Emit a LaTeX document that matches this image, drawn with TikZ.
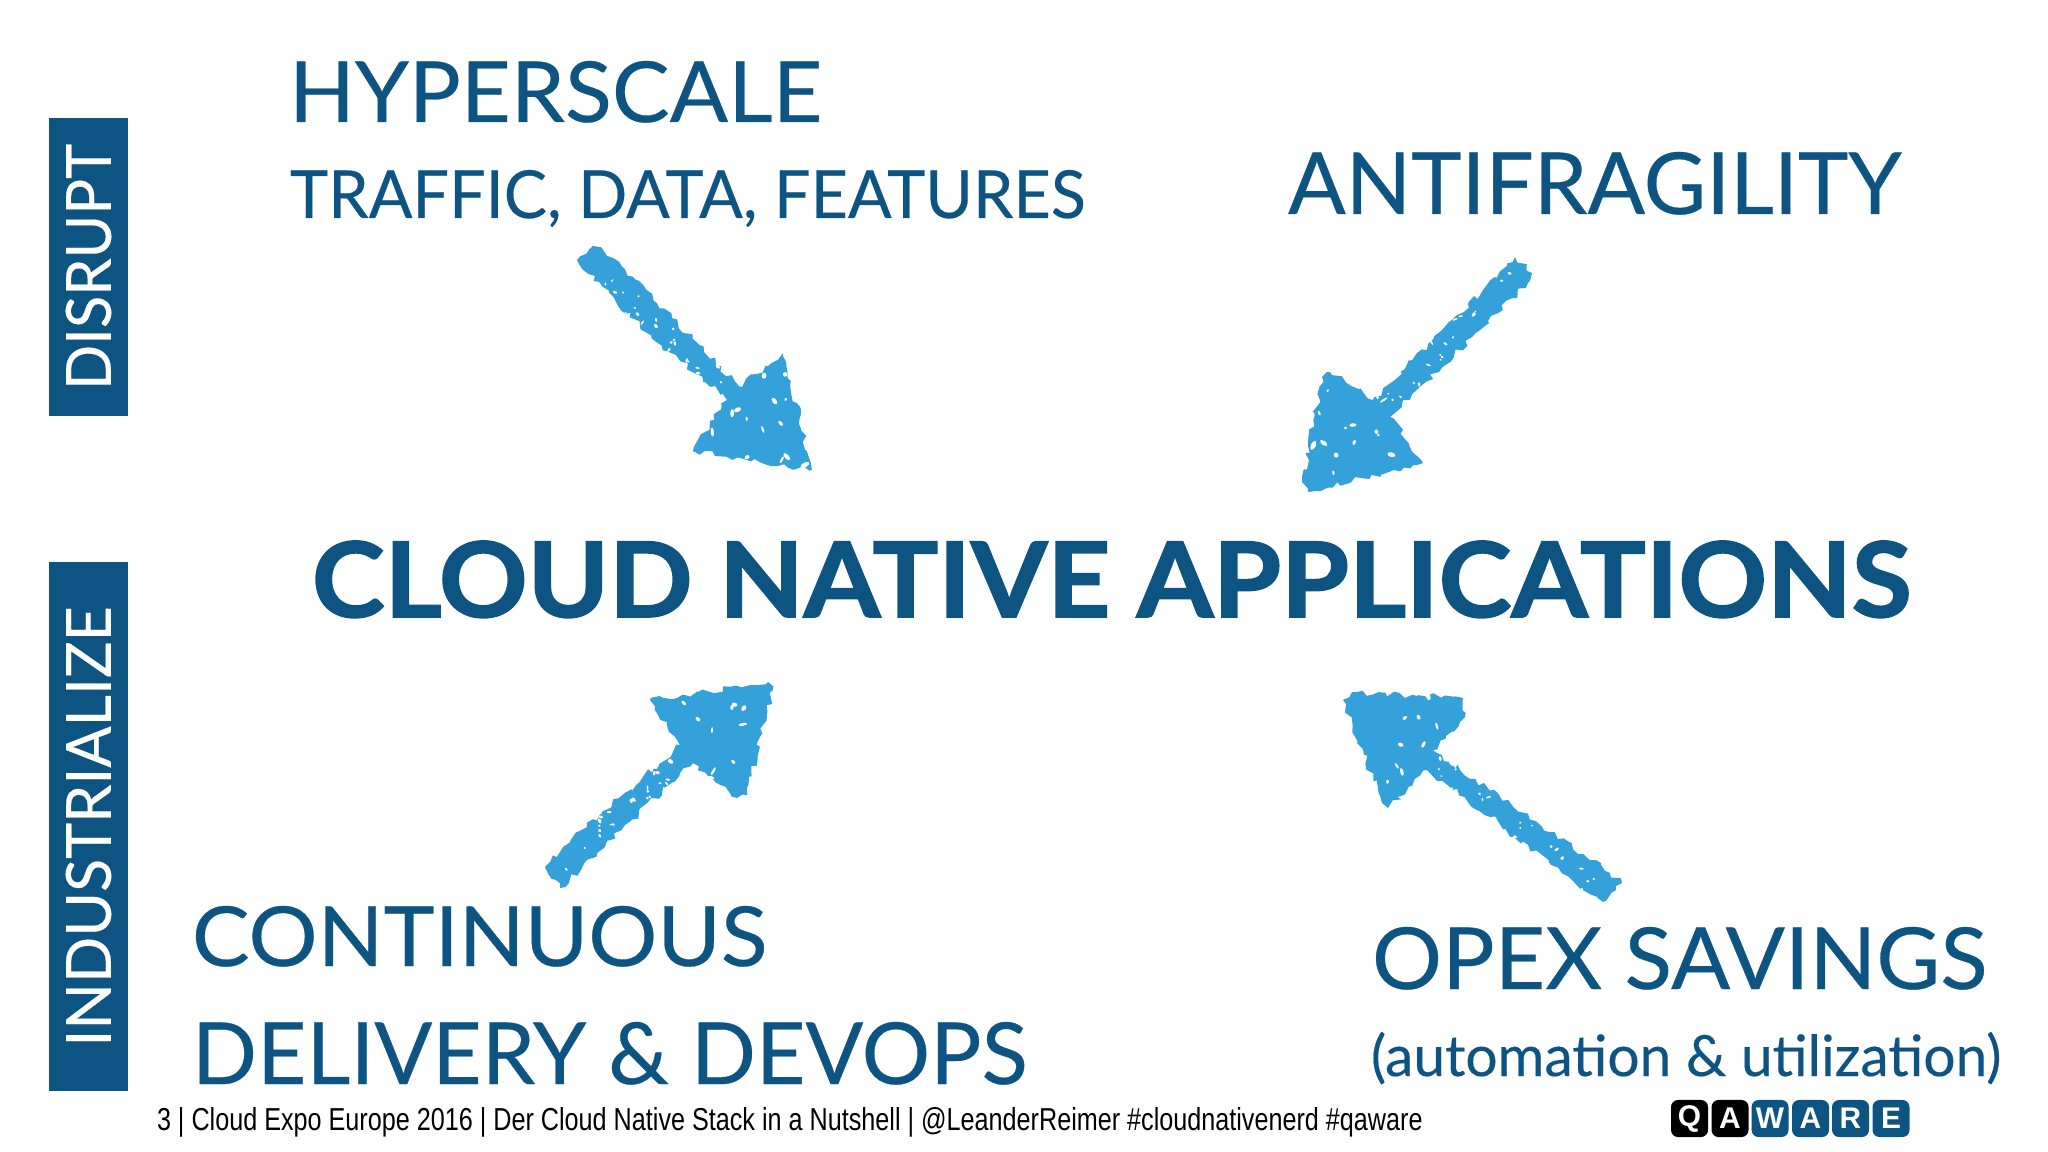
\documentclass[tikz,border=0pt]{standalone}
\usepackage{fontspec}
\usepackage{graphicx}
\usetikzlibrary{decorations.pathmorphing}
\setmainfont[FakeBold=0.35]{Lato}
\newfontfamily\titlefont[FakeBold=1.6]{Lato Bold}
\newfontfamily\footfont{Liberation Sans}
\newfontfamily\logofont{Liberation Sans}
\definecolor{qablue}{HTML}{0E5482}
\definecolor{brushblue}{HTML}{34A1DA}
\tikzset{
  every node/.style={inner sep=0pt,outer sep=0pt},
  headline/.style={anchor=base west,text=qablue},
  sidebar/.style={fill=qablue,text=white,rotate=90,minimum height=0.79cm},
  logobox/.style={rounded corners=2pt,minimum size=0.37cm,text=white,font=\logofont\bfseries\fontsize{8.5}{10}\selectfont},
  brush/.style={fill=brushblue,decorate,decoration={random steps,segment length=1.5pt,amplitude=0.9pt}}
}
% white chips: centre x, centre y, half width, half height, count
\newcommand{\speckles}[5]{
  \foreach \i in {1,...,#5}{
    \fill[white,shift={({#1+#3*rand},{#2+#4*rand})},rotate=rnd*180] (0,0) ellipse ({1.5+3.5*rnd} and {1+1.5*rnd});
  }
}
% white chips along a shaft: start x, start y, end x, end y, count
\newcommand{\shaftchips}[5]{
  \foreach \i in {1,...,#5}{
    \pgfmathsetmacro{\t}{rnd}
    \fill[white,shift={({#1+(#3-#1)*\t+13*rand},{#2+(#4-#2)*\t+13*rand})},rotate=rnd*180] (0,0) ellipse ({1+1.8*rnd} and {0.8+0.8*rnd});
  }
}
\begin{document}
\begin{tikzpicture}[x=0.01cm,y=-0.01cm]
\pgfmathsetseed{7}
\useasboundingbox (0,0) rectangle (2048,1152);

% side bars
\node[sidebar,minimum width=2.98cm] (disrupt) at (88.5,267) {\resizebox{2.46cm}{0.45cm}{DISRUPT}};
\node[sidebar,minimum width=5.29cm] (industrialize) at (88.5,826.5) {\resizebox{4.40cm}{0.45cm}{INDUSTRIALIZE}};

% texts
\node[headline] (hyperscale) at (289,122) {\resizebox{5.33cm}{0.61cm}{HYPERSCALE}};
\node[headline] (traffic) at (290,218) {\resizebox{7.95cm}{0.48cm}{TRAFFIC, DATA, FEATURES}};
\node[headline] (antifragility) at (1288,214) {\resizebox{6.13cm}{0.62cm}{ANTIFRAGILITY}};
\node[headline] (cloudnative) at (312,617) {\resizebox{15.98cm}{0.76cm}{\titlefont CLOUD NATIVE APPLICATIONS}};
\node[headline] (continuous) at (192,966) {\resizebox{5.75cm}{0.60cm}{CONTINUOUS}};
\node[headline] (delivery) at (192,1084) {\resizebox{8.35cm}{0.62cm}{DELIVERY \& DEVOPS}};
\node[headline] (opex) at (1372,989) {\resizebox{6.15cm}{0.62cm}{OPEX SAVINGS}};
\node[headline] (automation) at (1371,1076) {\resizebox{6.30cm}{!}{(automation \& utilization)}};
\node[anchor=base west] (footer) at (157,1130) {\resizebox{12.65cm}{0.23cm}{\footfont 3 | Cloud Expo Europe 2016 | Der Cloud Native Stack in a Nutshell | @LeanderReimer \#cloudnativenerd \#qaware}};

% brush arrows
\def\hyperarrow{(577,260) -- (593,246) -- (613,258) -- (740,387) -- (783,353) -- (800,417) -- (812,470) -- (693,451) -- (727,400) -- (647,333) -- cycle}
\def\antiarrow{(1515,257) -- (1532,273) -- (1528,283) -- (1513,298) -- (1390,417) -- (1423,463) -- (1308,492) -- (1302,482) -- (1322,377) -- (1330,372) -- (1373,400) -- (1483,290) -- cycle}
\def\contarrow{(773,690) -- (768,682) -- (650,700) -- (680,745) -- (563,847) -- (545,867) -- (560,888) -- (693,763) -- (737,798) -- (747,795) -- (760,737) -- cycle}
\def\opexarrow{(1343,700) -- (1352,692) -- (1463,698) -- (1465,717) -- (1433,750) -- (1610,873) -- (1622,883) -- (1603,902) -- (1583,888) -- (1427,770) -- (1388,808) -- (1382,803) -- cycle}

\path[brush] \hyperarrow;
\path[brush] \antiarrow;
\path[brush] \contarrow;
\path[brush] \opexarrow;

\speckles{755}{420}{50}{50}{16}
\speckles{1360}{430}{50}{55}{16}
\speckles{700}{735}{50}{50}{16}
\speckles{1400}{745}{55}{50}{16}

\shaftchips{600}{270}{725}{395}{24}
\shaftchips{1500}{280}{1385}{405}{24}
\shaftchips{570}{860}{680}{760}{24}
\shaftchips{1590}{880}{1430}{765}{24}

% logo
\foreach \x/\letter/\boxcolor in {1689.5/Q/black,1730/A/black,1770/W/qablue,1810.5/A/qablue,1850.5/R/qablue,1891/E/qablue}{
  \node[logobox,fill=\boxcolor] (logo\letter\boxcolor) at (\x,1118.5) {\letter};
}
\end{tikzpicture}
\end{document}
